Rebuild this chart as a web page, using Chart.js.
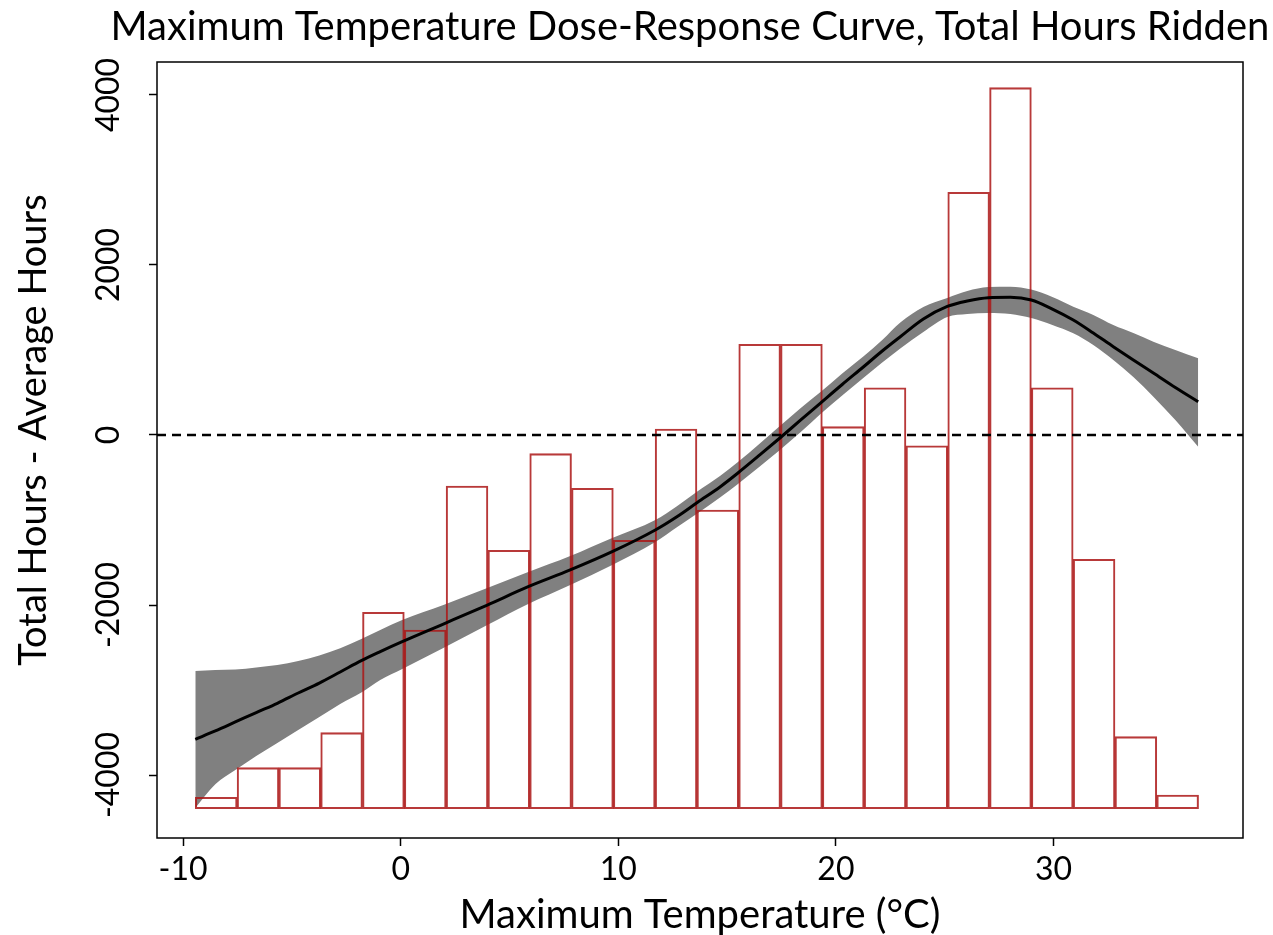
<!DOCTYPE html>
<html>
<head>
<meta charset="utf-8">
<script src="https://cdn.jsdelivr.net/npm/chart.js@4.4.1/dist/chart.umd.min.js"></script>
<style>html,body{margin:0;padding:0;background:#fff;}canvas{display:block;}</style>
</head>
<body>
<canvas id="c" width="1273" height="935"></canvas>
<script>
const titleText = 'Maximum Temperature Dose-Response Curve, Total Hours Ridden';
const xTitle = 'Maximum Temperature (°C)';
const yTitle = 'Total Hours - Average Hours';
const xTicks = [-10, 0, 10, 20, 30];
const yTicks = [-4000, -2000, 0, 2000, 4000];
const xRange = [-11.2, 38.71];
const yRange = [-4741, 4388];

// histogram bins (centres, °C) and bar tops (y units); bars rise from barBase
const binCenters = [-8.479, -6.558, -4.637, -2.716, -0.795, 1.127, 3.048, 4.969, 6.890, 8.811, 10.733, 12.654,
                    14.575, 16.496, 18.417, 20.338, 22.260, 24.181, 26.102, 28.023, 29.944, 31.866, 33.787, 35.708];
const barTops = [-4262, -3914, -3914, -3502, -2086, -2294, -600, -1357, -220, -627, -1239, 71,
                 -882, 1067, 1067, 98, 556, -126, 2855, 4086, 556, -1462, -3549, -4235];
const barBase = -4396;

// dose-response curve and confidence band
const curveX = [-9.44, -8.52, -7.60, -6.64, -5.67, -4.71, -3.74, -2.78, -1.81, -0.94, 0.07, 1.96, 3.98, 5.86, 7.79,
                9.72, 11.70, 12.71, 13.63, 14.69, 15.47, 16.53, 17.40, 18.36, 19.28, 20.29, 21.26, 22.13, 22.96,
                24.02, 25.12, 26.04, 27.01, 28.02, 28.98, 29.95, 30.91, 31.83, 32.75, 33.67, 34.59, 35.60, 36.65];
const fitValues = [-3580, -3482, -3376, -3265, -3156, -3035, -2918, -2788, -2655, -2549, -2432, -2224, -2000, -1785, -1588,
                   -1373, -1118, -959, -794, -608, -453, -229, -41, 171, 373, 594, 800, 988, 1156,
                   1365, 1512, 1576, 1615, 1620, 1588, 1482, 1353, 1200, 1039, 882, 729, 559, 392];
const upperValues = [-2776, -2765, -2759, -2735, -2706, -2659, -2595, -2510, -2400, -2294, -2176, -2000, -1800, -1612, -1424,
                     -1212, -1000, -835, -665, -479, -324, -94, 100, 312, 502, 724, 924, 1118, 1324,
                     1506, 1612, 1694, 1741, 1745, 1712, 1624, 1509, 1412, 1294, 1200, 1098, 1000, 902];
const lowerValues = [-4388, -4110, -3941, -3776, -3624, -3471, -3318, -3165, -3030, -2882, -2753, -2506, -2235, -1988, -1765,
                     -1529, -1259, -1082, -924, -732, -582, -365, -182, 29, 244, 465, 671, 853, 1018,
                     1212, 1388, 1424, 1435, 1424, 1376, 1294, 1196, 1059, 882, 682, 451, 176, -138];
const referenceLevel = 0;

const FONT = "Lato, 'Open Sans', 'DejaVu Sans', sans-serif";
const pts = (xs, ys) => xs.map((x, i) => ({x: x, y: ys[i]}));

const decorPlugin = {
  id: 'decor',
  afterDatasetsDraw(chart) {
    const {ctx, chartArea: a} = chart;
    ctx.save();
    ctx.strokeStyle = '#000';
    ctx.lineWidth = 1.5;
    ctx.strokeRect(a.left, a.top, a.right - a.left, a.bottom - a.top);
    ctx.restore();
  },
  afterDraw(chart) {
    const {ctx} = chart;
    ctx.save();
    ctx.fillStyle = '#000';
    ctx.textAlign = 'center';
    ctx.textBaseline = 'alphabetic';
    ctx.font = "40px " + FONT;
    ctx.fillText(titleText, 690, 40);
    ctx.translate(46, 430);
    ctx.rotate(-Math.PI / 2);
    ctx.font = "38px " + FONT;
    ctx.fillText(yTitle, 0, 0);
    ctx.restore();
  }
};

const tickGrid = {display: true, offset: false, drawOnChartArea: false, drawTicks: true, tickLength: 8, tickColor: '#000', tickWidth: 1.5};

new Chart(document.getElementById('c'), {
  type: 'bar',
  data: {
    datasets: [
      {type: 'line', label: 'upper', data: pts(curveX, upperValues), borderWidth: 0, borderColor: 'rgba(0,0,0,0)',
       pointRadius: 0, fill: '+1', backgroundColor: '#808080', cubicInterpolationMode: 'monotone', order: 5},
      {type: 'line', label: 'lower', data: pts(curveX, lowerValues), borderWidth: 0, borderColor: 'rgba(0,0,0,0)',
       pointRadius: 0, fill: false, cubicInterpolationMode: 'monotone', order: 4},
      {type: 'bar', label: 'hist', data: binCenters.map((x, i) => ({x: x, y: [barBase, barTops[i]]})),
       backgroundColor: 'rgba(0,0,0,0)', borderColor: 'rgba(172,22,22,0.85)', borderWidth: 1.4, borderSkipped: false,
       barPercentage: 1, categoryPercentage: 1, grouped: false, order: 3},
      {type: 'line', label: 'fit', data: pts(curveX, fitValues), borderColor: '#000', borderWidth: 3,
       pointRadius: 0, fill: false, cubicInterpolationMode: 'monotone', order: 2},
      {type: 'line', label: 'zero', data: [{x: xRange[0], y: referenceLevel}, {x: xRange[1], y: referenceLevel}],
       borderColor: '#000', borderWidth: 2.5, borderDash: [9, 6], pointRadius: 0, fill: false, order: 1}
    ]
  },
  options: {
    responsive: false,
    devicePixelRatio: 1,
    animation: false,
    layout: {padding: {top: 62, right: 30, bottom: 0, left: 0}},
    plugins: {
      legend: {display: false},
      tooltip: {enabled: false},
      title: {display: false}
    },
    scales: {
      x: {
        type: 'linear', min: xRange[0], max: xRange[1], offset: false,
        afterBuildTicks: s => { s.ticks = xTicks.map(v => ({value: v})); },
        afterFit: s => { s.height = 97; },
        ticks: {autoSkip: false, color: '#000', font: {family: FONT, size: 32}, padding: 4,
                maxRotation: 0, minRotation: 0, callback: v => String(v)},
        grid: tickGrid,
        border: {display: false},
        title: {display: true, text: xTitle, color: '#000', font: {family: FONT, size: 40}, padding: {top: 0, bottom: -4}}
      },
      y: {
        type: 'linear', min: yRange[0], max: yRange[1],
        afterBuildTicks: s => { s.ticks = yTicks.map(v => ({value: v})); },
        afterFit: s => { s.width = 157; },
        ticks: {autoSkip: false, color: '#000', font: {family: FONT, size: 32}, minRotation: 90, maxRotation: 90,
                crossAlign: 'center', padding: -3, callback: v => String(v)},
        grid: tickGrid,
        border: {display: false},
        title: {display: false}
      }
    }
  },
  plugins: [decorPlugin]
});
</script>
</body>
</html>
